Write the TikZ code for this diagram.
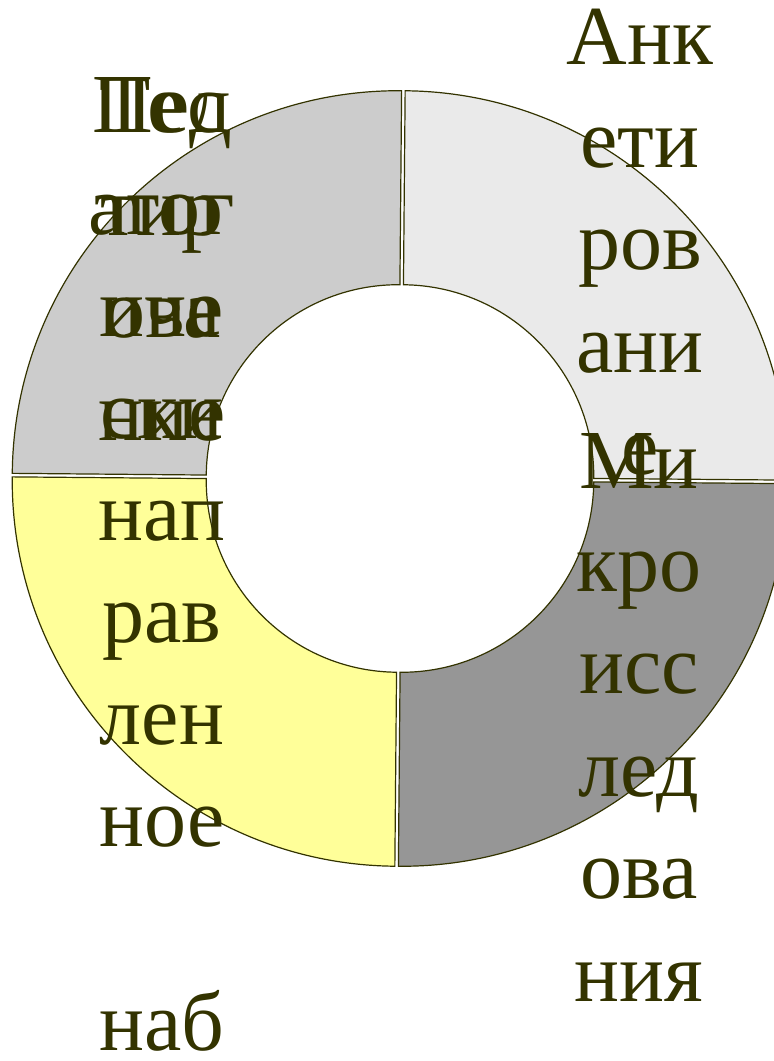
\documentclass[tikz,border=0pt]{standalone}
\usepackage{fontspec}
\setmainfont{Liberation Serif}
\definecolor{olivedark}{RGB}{51,51,0}
\definecolor{segA}{RGB}{234,234,234}
\definecolor{segB}{RGB}{204,204,204}
\definecolor{segC}{RGB}{255,255,153}
\definecolor{segD}{RGB}{150,150,150}

\begin{document}
\begin{tikzpicture}[x=1pt,y=1pt]
\tikzstyle{seg}=[draw=olivedark, line width=1.2pt]
\tikzstyle{lbl}=[text=olivedark, text width=220pt, align=center, inner sep=0pt,
  anchor=base, font=\fontsize{84}{102.5}\selectfont]
\useasboundingbox (0,0) rectangle (774,1061);
\clip (0,0) rectangle (774,1061);
\begin{scope}[shift={(400,582.5)}]
\foreach \a/\col in {-0.5/segA,89.5/segB,179.5/segC,269.5/segD}
  \filldraw[seg, fill=\col, shift={(\a+45:2.5pt)}]
    (\a:192pt) -- (\a:386pt) arc[start angle=\a, delta angle=90, radius=386pt]
    -- (\a+90:192pt) arc[start angle=\a+90, delta angle=-90, radius=192pt] -- cycle;
\end{scope}
\node[lbl] (anket) at (640,996) {Анк\\ети\\ров\\ани\\е};
\node[lbl] (mikro) at (639,572) {Ми\\кро\\исс\\лед\\ова\\ния};
\node[lbl] (test) at (162,928) {Тес\\тир\\ова\\ние};
\node[lbl, font=\fontsize{84}{102}\selectfont] (pedag) at (162,928)
  {Пед\\агог\\иче\\ски\\нап\\рав\\лен\\ное\\\mbox{}\\наб};
\end{tikzpicture}
\end{document}
